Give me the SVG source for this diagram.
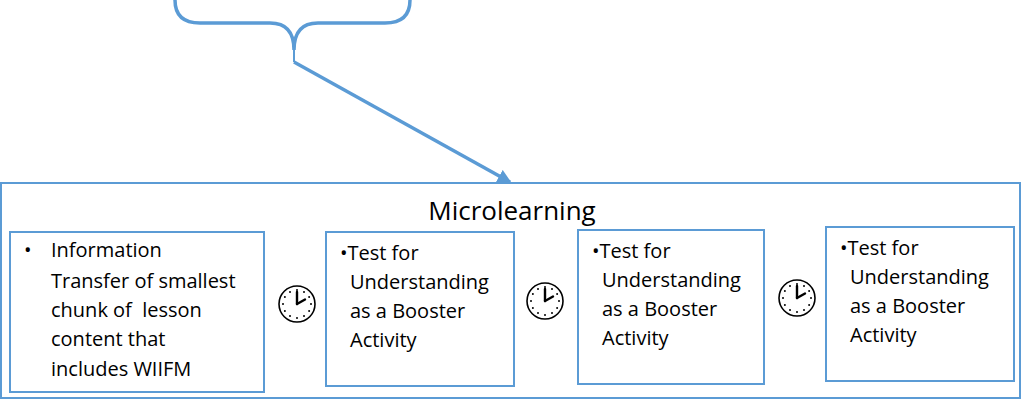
<svg xmlns="http://www.w3.org/2000/svg" width="1024" height="400" viewBox="0 0 1024 400">
<style>
.box{fill:#fff;stroke:#5b9bd5;stroke-width:2}
.t{font-family:"Open Sans","Liberation Sans",sans-serif;font-size:20px;fill:#000}
.ck{fill:#fff;stroke:#000;stroke-width:1.6}
.h{stroke:#000;stroke-width:2.4;stroke-linecap:round}
.d{fill:#000}
</style>
<defs>
<marker id="ah" markerWidth="4" markerHeight="4" refX="3.5" refY="2" orient="auto" markerUnits="strokeWidth"><path d="M0,0 L4,2 L0,4 Z" fill="#5b9bd5"/></marker>
<g id="clock">
<circle class="ck" r="18"/>
<circle class="d" cx="0" cy="-14" r="1"/><circle class="d" cx="7" cy="-12.1" r="1"/><circle class="d" cx="12.1" cy="-7" r="1"/><circle class="d" cx="14" cy="0" r="1"/><circle class="d" cx="12.1" cy="7" r="1"/><circle class="d" cx="7" cy="12.1" r="1"/><circle class="d" cx="0" cy="14" r="1"/><circle class="d" cx="-7" cy="12.1" r="1"/><circle class="d" cx="-12.1" cy="7" r="1"/><circle class="d" cx="-14" cy="0" r="1"/><circle class="d" cx="-12.1" cy="-7" r="1"/><circle class="d" cx="-7" cy="-12.1" r="1"/>
<line class="h" x1="0" y1="0" x2="0" y2="-12"/><line class="h" x1="0" y1="0" x2="8" y2="-4.5"/>
</g>
</defs>
<g id="connectors" fill="none" stroke="#5b9bd5" stroke-width="3.5">
<path d="M175,0 Q175,23 200,23 L270,23 Q294,23 294,50 Q294,23 318,23 L385,23 Q410,23 410,0"/>
<line x1="294" y1="48" x2="294" y2="62" stroke-width="2"/>
<path d="M294,62 L510,182" marker-end="url(#ah)"/>
</g>
<g id="microlearning">
<rect class="box" x="1" y="183" width="1019" height="215"/>
<text x="512" y="220" text-anchor="middle" style="font-family:'Open Sans','Liberation Sans',sans-serif;font-size:26px">Microlearning</text>
</g>
<g id="box1"><rect class="box" x="10" y="232" width="254" height="160"/>
<text class="t" xml:space="preserve"><tspan x="24" y="257">•</tspan><tspan x="51" y="257">Information</tspan><tspan x="51" y="288">Transfer of smallest</tspan><tspan x="51" y="317">chunk of  lesson</tspan><tspan x="51" y="346">content that</tspan><tspan x="51" y="376">includes WIIFM</tspan></text></g>
<g id="box2"><rect class="box" x="326" y="232" width="188" height="154"/>
<text class="t"><tspan x="340" y="260">•Test for</tspan><tspan x="350" y="289">Understanding</tspan><tspan x="350" y="318">as a Booster</tspan><tspan x="350" y="347">Activity</tspan></text></g>
<g id="box3"><rect class="box" x="578" y="230" width="186" height="154"/>
<text class="t"><tspan x="592" y="258">•Test for</tspan><tspan x="602" y="287">Understanding</tspan><tspan x="602" y="316">as a Booster</tspan><tspan x="602" y="345">Activity</tspan></text></g>
<g id="box4"><rect class="box" x="826" y="227" width="188" height="154"/>
<text class="t"><tspan x="840" y="255">•Test for</tspan><tspan x="850" y="284">Understanding</tspan><tspan x="850" y="313">as a Booster</tspan><tspan x="850" y="342">Activity</tspan></text></g>
<g id="clock1"><use href="#clock" x="297" y="304"/></g>
<g id="clock2"><use href="#clock" x="545" y="301"/></g>
<g id="clock3"><use href="#clock" x="797" y="298"/></g>
</svg>
